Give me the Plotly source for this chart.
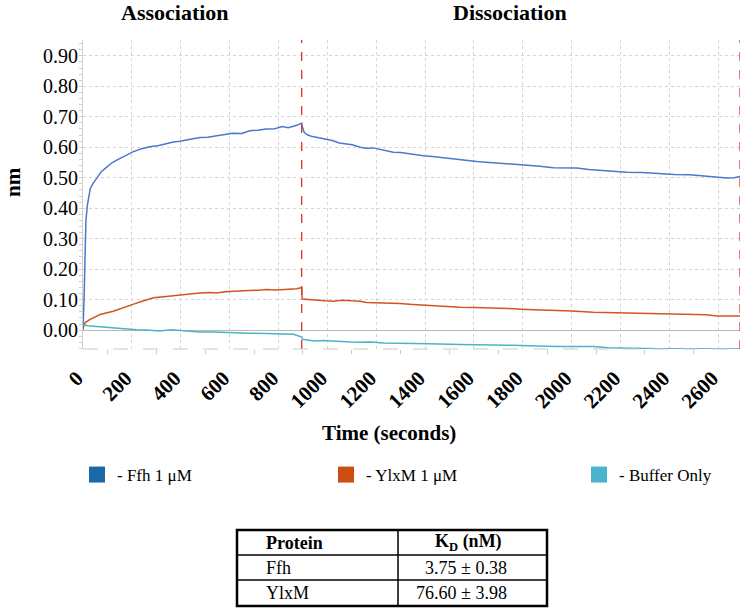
import plotly.graph_objects as go

# ---------------- data ----------------
ffh_t = [0, 3, 5, 8, 12, 18, 24, 30, 40, 56, 75, 97, 120, 138, 170, 204, 240, 273, 310, 341,
         370, 396, 440, 478, 510, 546, 580, 612, 650, 682, 715, 750, 785, 816, 840, 857, 875, 886, 895,
         897, 906, 920, 939, 965, 995, 1020, 1049, 1075, 1102, 1134, 1158, 1188, 1212, 1240, 1270,
         1300, 1330, 1393, 1430, 1470, 1500, 1543, 1580, 1612, 1650, 1700, 1750, 1789, 1830, 1870,
         1925, 1970, 2021, 2070, 2116, 2170, 2225, 2290, 2361, 2420, 2484, 2530, 2567, 2600, 2635,
         2665, 2689]
ffh_v = [0.00, 0.05, 0.12, 0.23, 0.36, 0.41, 0.44, 0.465, 0.48, 0.50, 0.52, 0.535, 0.55, 0.558,
         0.572, 0.585, 0.595, 0.602, 0.606, 0.612, 0.617, 0.620, 0.626, 0.632, 0.633, 0.638, 0.643,
         0.646, 0.645, 0.654, 0.656, 0.660, 0.661, 0.668, 0.664, 0.667, 0.672, 0.676, 0.679,
         0.668, 0.648, 0.640, 0.635, 0.631, 0.627, 0.622, 0.614, 0.612, 0.608, 0.600, 0.597, 0.598,
         0.594, 0.590, 0.584, 0.583, 0.579, 0.572, 0.570, 0.566, 0.563, 0.561, 0.556, 0.553, 0.551,
         0.548, 0.546, 0.543, 0.540, 0.538, 0.533, 0.533, 0.532, 0.527, 0.524, 0.522, 0.518, 0.517,
         0.513, 0.511, 0.510, 0.507, 0.504, 0.503, 0.499, 0.500, 0.504]

ylxm_t = [0, 4, 8, 29, 70, 124, 150, 179, 210, 233, 260, 288, 320, 342, 380, 397, 440, 478, 520,
          547, 580, 615, 650, 682, 720, 750, 790, 820, 850, 875, 886, 895,
          897, 920, 955, 990, 1025, 1060, 1100, 1134, 1160, 1203, 1250, 1297, 1350, 1406, 1460,
          1543, 1600, 1680, 1740, 1816, 1880, 1953, 2000, 2089, 2150, 2225, 2290, 2362, 2420, 2498,
          2550, 2594, 2640, 2689]
ylxm_v = [0.005, 0.018, 0.024, 0.035, 0.051, 0.062, 0.070, 0.079, 0.086, 0.092, 0.100, 0.106,
          0.109, 0.111, 0.115, 0.117, 0.120, 0.122, 0.123, 0.122, 0.126, 0.128, 0.129, 0.130, 0.131,
          0.133, 0.132, 0.133, 0.135, 0.136, 0.138, 0.139,
          0.102, 0.100, 0.098, 0.096, 0.095, 0.098, 0.096, 0.095, 0.091, 0.090, 0.088, 0.087, 0.084,
          0.081, 0.079, 0.075, 0.074, 0.073, 0.071, 0.068, 0.067, 0.065, 0.063, 0.059, 0.058, 0.057,
          0.056, 0.054, 0.052, 0.051, 0.050, 0.046, 0.047, 0.046]

buf_t = [0, 20, 69, 110, 137, 150, 178, 220, 260, 315, 360, 400, 478, 530, 614, 680, 752, 800,
         861, 886, 895,
         898, 920, 948, 985, 1020, 1093, 1134, 1176, 1230, 1270, 1350, 1410, 1543, 1600, 1680,
         1760, 1816, 1900, 1953, 2040, 2089, 2150, 2225, 2300, 2361, 2420, 2498, 2600, 2689]
buf_v = [0.018, 0.014, 0.011, 0.008, 0.006, 0.004, 0.002, 0.001, 0.000, -0.003, 0.001, -0.002,
         -0.006, -0.006, -0.009, -0.010, -0.011, -0.012, -0.014, -0.020, -0.022,
         -0.030, -0.033, -0.036, -0.034, -0.036, -0.039, -0.040, -0.039, -0.042, -0.043, -0.043,
         -0.045, -0.047, -0.047, -0.049, -0.050, -0.052, -0.053, -0.054, -0.054, -0.054, -0.058,
         -0.060, -0.060, -0.061, -0.061, -0.062, -0.062, -0.062]

series_names = ["- Ffh 1 \u03bcM", "- YlxM 1 \u03bcM", "- Buffer Only"]
line_colors = ["#4a78cc", "#d2541f", "#4cb3c8"]
legend_colors = ["#1c69a8", "#cc4e12", "#4ab4cc"]

phase_bounds = [895, 2689]   # red dashed markers (s)
x_ticks = list(range(0, 2601, 200))
y_ticks = [0.0, 0.1, 0.2, 0.3, 0.4, 0.5, 0.6, 0.7, 0.8, 0.9]

table_header = ["Protein", "K<sub>D</sub> (nM)"]
table_protein = ["Ffh", "YlxM"]
table_kd = ["3.75 \u00b1 0.38", "76.60 \u00b1 3.98"]

# ---------------- figure ----------------
SERIF = "Liberation Serif, Times New Roman, serif"
W, H = 742, 608


def px(x):
    return x / W


def py(y):
    return (H - y) / H


fig = go.Figure()

for t, v, c, n in zip([ffh_t, ylxm_t, buf_t], [ffh_v, ylxm_v, buf_v], line_colors, series_names):
    fig.add_trace(go.Scatter(x=t, y=v, mode="lines", line=dict(color=c, width=1.5),
                             name=n, showlegend=False, hoverinfo="skip"))
# legend entries (square swatches), one legend box per entry
legend_ids = ["legend", "legend2", "legend3"]
for c, n, lid in zip(legend_colors, series_names, legend_ids):
    fig.add_trace(go.Scatter(x=[None], y=[None], mode="markers",
                             marker=dict(symbol="square", size=19, color=c),
                             name=n, showlegend=True, legend=lid))

for xb in phase_bounds:
    fig.add_shape(type="line", x0=xb, x1=xb, xref="x", y0=0, y1=1, yref="y domain",
                  line=dict(color="#e0302c", width=1.3, dash="dash"))
# dashed bottom axis line
fig.add_shape(type="line", x0=0, x1=1, xref="x domain", y0=0, y1=0, yref="y domain",
              line=dict(color="#c9c9c9", width=1.2, dash="longdash"))

# ---- table (drawn as ruled grid with text) ----
TX0, TX1, TXD = 237, 547, 398
TY = [530, 555, 580, 606]
fig.add_shape(type="rect", xref="paper", yref="paper", x0=px(TX0), x1=px(TX1),
              y0=py(TY[3]), y1=py(TY[0]), line=dict(color="black", width=2.5))
for yy in TY[1:3]:
    fig.add_shape(type="line", xref="paper", yref="paper", x0=px(TX0), x1=px(TX1),
                  y0=py(yy), y1=py(yy), line=dict(color="black", width=1.5))
fig.add_shape(type="line", xref="paper", yref="paper", x0=px(TXD), x1=px(TXD),
              y0=py(TY[3]), y1=py(TY[0]), line=dict(color="black", width=1.5))
tfont = dict(family=SERIF, size=18, color="black")
fig.add_annotation(text=f"<b>{table_header[0]}</b>", x=px(264), y=py((TY[0] + TY[1]) / 2),
                   xref="paper", yref="paper", showarrow=False, font=tfont,
                   xanchor="left", yanchor="middle")
fig.add_annotation(text=f"<b>{table_header[1]}</b>", x=px(468), y=py((TY[0] + TY[1]) / 2),
                   xref="paper", yref="paper", showarrow=False, font=tfont,
                   xanchor="center", yanchor="middle")
for i, (p, k) in enumerate(zip(table_protein, table_kd)):
    yc = py((TY[i + 1] + TY[i + 2]) / 2)
    fig.add_annotation(text=p, x=px(264), y=yc, xref="paper", yref="paper", showarrow=False,
                       font=tfont, xanchor="left", yanchor="middle")
    fig.add_annotation(text=k, x=px(509), y=yc, xref="paper", yref="paper", showarrow=False,
                       font=tfont, xanchor="right", yanchor="middle")

fig.add_annotation(text="<b>Association</b>", x=px(175), y=py(12), xref="paper", yref="paper",
                   showarrow=False, font=dict(family=SERIF, size=22, color="black"),
                   xanchor="center", yanchor="middle")
fig.add_annotation(text="<b>Dissociation</b>", x=px(510), y=py(12), xref="paper", yref="paper",
                   showarrow=False, font=dict(family=SERIF, size=22, color="black"),
                   xanchor="center", yanchor="middle")
fig.add_annotation(text="<b>Time (seconds)</b>", x=px(389), y=py(433), xref="paper", yref="paper",
                   showarrow=False, font=dict(family=SERIF, size=21, color="black"),
                   xanchor="center", yanchor="middle")
fig.add_annotation(text="<b>nm</b>", x=px(13), y=py(182), xref="paper", yref="paper",
                   showarrow=False, font=dict(family=SERIF, size=21, color="black"),
                   textangle=-90, xanchor="center", yanchor="middle")

leg_common = dict(orientation="h", yanchor="top", xanchor="left", y=py(457),
                  font=dict(family=SERIF, size=17, color="black"),
                  itemwidth=30, bgcolor="rgba(0,0,0,0)")
fig.update_layout(
    width=W, height=H, autosize=False,
    margin=dict(l=0, r=0, t=0, b=0),
    paper_bgcolor="white", plot_bgcolor="white",
    showlegend=True,
    legend=dict(x=px(77), **leg_common),
    legend2=dict(x=px(326), **leg_common),
    legend3=dict(x=px(579), **leg_common),
    xaxis=dict(domain=[px(83), px(740)], range=[0, 2689], automargin=False,
               tickvals=x_ticks, ticktext=[f"<b>{v}</b>" for v in x_ticks],
               tickangle=-45, ticks="", ticklabelstandoff=12, ticklabelshift=-6,
               tickfont=dict(family=SERIF, size=21, color="black"),
               showgrid=True, gridcolor="#d4d4d4", griddash="dot", gridwidth=1,
               zeroline=False, showline=False,
               minor=dict(tick0=100, dtick=200, ticks="outside", ticklen=4,
                          tickcolor="#c9c9c9", showgrid=False)),
    yaxis=dict(domain=[py(349), py(40)], range=[-0.062, 0.952], automargin=False,
               tickvals=y_ticks, tickformat=".2f", ticks="",
               tickfont=dict(family=SERIF, size=20, color="black"),
               showgrid=True, gridcolor="#d4d4d4", griddash="dot", gridwidth=1,
               zeroline=True, zerolinecolor="#b8b8b8", zerolinewidth=1,
               showline=True, linecolor="#cfcfcf", linewidth=1,
               minor=dict(dtick=0.02, ticks="outside", ticklen=3, tickcolor="#cfcfcf",
                          showgrid=False)),
)

fig.write_html("out.html", config={"displayModeBar": False},
               post_script="document.body.style.margin='0px';")
